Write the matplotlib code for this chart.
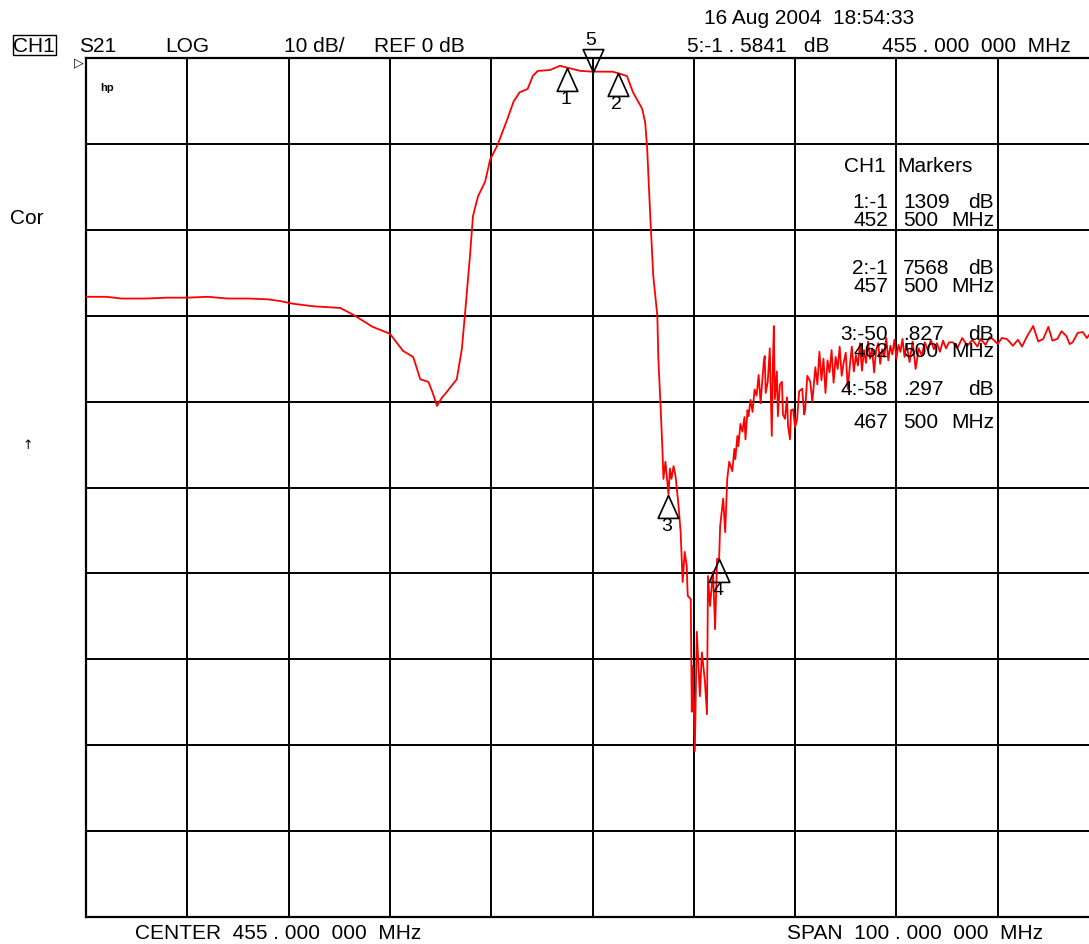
import numpy as np
import matplotlib
matplotlib.use('Agg')
import matplotlib.pyplot as plt
from matplotlib.path import Path

plt.rcParams['font.family'] = ['Liberation Sans', 'DejaVu Sans']

# S21 trace (MHz, dB)
freq_mhz = [
    405.0, 407.0, 408.5, 411.0, 413.0, 415.0, 417.0, 419.0, 421.0, 423.0,
    424.2, 425.4, 427.4, 430.1, 431.4, 433.3, 435.0, 436.3, 437.3, 438.0,
    438.8, 439.2, 439.65, 440.1, 440.6, 441.6, 442.1, 442.4, 442.9, 443.2,
    443.7, 444.4, 444.9, 445.6, 446.6, 447.2, 447.8, 448.6, 449.1, 449.6,
    450.8, 451.8, 452.5, 453.8, 454.85, 457.0, 457.5, 458.4, 459.0, 459.9,
    460.2, 460.4, 460.7, 461.0, 461.4, 461.5, 461.7, 461.9, 462.0, 462.2,
    462.5, 462.65, 462.8, 463.0, 463.2, 463.5, 463.7, 463.8, 463.9, 464.1,
    464.3, 464.4, 464.7, 464.8, 464.9, 465.1, 465.3, 465.6, 465.8, 466.1,
    466.3, 466.4, 466.6, 466.9, 467.1, 467.3, 467.5, 467.6, 467.9, 468.1,
    468.3, 468.5, 468.8, 469.0, 469.1, 469.3, 469.4, 469.6, 469.8, 470.0,
    470.1, 470.3, 470.4, 470.6, 470.8, 471.0, 471.2, 471.4, 471.6, 471.7,
    471.9, 472.0, 472.1, 472.3, 472.5, 472.7, 472.8, 472.9, 473.0, 473.2,
    473.3, 473.5, 473.7, 473.8, 474.0, 474.2, 474.3, 474.5, 474.6, 474.8,
    475.0, 475.2, 475.4, 475.7, 475.9, 476.0, 476.2, 476.5, 476.7, 476.85,
    477.0, 477.2, 477.4, 477.6, 477.8, 478.0, 478.2, 478.4, 478.6, 478.8,
    479.0, 479.2, 479.4, 479.6, 479.8, 480.0, 480.2, 480.4, 480.6, 480.8,
    481.0, 481.2, 481.4, 481.6, 481.8, 482.0, 482.2, 482.4, 482.6, 482.8,
    483.0, 483.2, 483.4, 483.6, 483.8, 484.0, 484.2, 484.4, 484.6, 484.8,
    485.0, 485.2, 485.4, 485.6, 485.8, 486.0, 486.3, 486.6, 486.9, 487.2,
    487.5, 487.8, 488.1, 488.4, 488.7, 489.0, 489.3, 489.6, 489.9, 490.2,
    490.6, 491.0, 491.5, 492.0, 492.5, 493.0, 493.3, 493.8, 494.2, 494.5,
    495.0, 495.4, 495.9, 496.5, 497.0, 497.4, 497.9, 498.5, 499.0, 499.5,
    500.0, 500.4, 500.9, 501.3, 501.8, 502.1, 502.4, 502.9, 503.4, 503.8,
    504.3, 505.0,
]
s21_db = [
    -27.8, -27.8, -28.0, -28.0, -27.9, -27.9, -27.8, -28.0, -28.0, -28.1,
    -28.3, -28.6, -28.9, -29.1, -29.9, -31.3, -32.1, -34.1, -34.8, -37.4,
    -37.7, -38.9, -40.5, -39.6, -38.9, -37.4, -33.9, -30.0, -23.1, -18.4,
    -16.1, -14.4, -11.8, -10.2, -7.1, -5.1, -4.0, -3.6, -2.1, -1.5,
    -1.4, -0.9, -1.13, -1.5, -1.58, -1.6, -1.76, -2.1, -4.0, -5.9,
    -7.5, -10.6, -18.4, -25.4, -30.0, -35.0, -40.0, -45.5, -49.0, -47.0,
    -50.8, -47.8, -49.0, -47.5, -48.7, -52.2, -55.2, -58.0, -61.0, -57.5,
    -59.1, -62.6, -63.0, -76.1, -70.8, -80.7, -66.8, -74.3, -69.2, -72.6,
    -76.4, -60.3, -63.8, -59.8, -66.5, -58.3, -58.3, -54.5, -51.3, -55.2,
    -49.0, -47.0, -48.1, -45.5, -46.7, -44.0, -45.2, -42.6, -43.5, -41.8,
    -44.4, -41.0, -41.7, -39.8, -41.2, -38.6, -39.3, -36.9, -40.2, -38.5,
    -35.5, -34.7, -39.0, -37.7, -33.8, -44.0, -36.0, -31.2, -39.7, -36.5,
    -41.7, -38.0, -37.7, -41.5, -42.0, -39.5, -42.8, -44.4, -41.0, -40.9,
    -43.0, -42.0, -38.8, -38.5, -41.5, -40.9, -37.0, -37.7, -40.0, -38.0,
    -36.0, -38.0, -34.2, -37.5, -35.0, -39.0, -35.2, -36.6, -34.0, -37.8,
    -34.8, -36.2, -33.6, -37.0, -35.4, -34.3, -38.5, -35.9, -33.6, -36.5,
    -34.6, -35.8, -33.2, -36.4, -34.0, -35.5, -33.0, -35.0, -33.8, -36.6,
    -34.0, -33.2, -35.6, -33.9, -34.8, -32.6, -35.2, -33.5, -34.5, -32.8,
    -35.0, -33.4, -34.2, -32.7, -34.8, -33.3, -35.4, -33.0, -36.2, -33.8,
    -34.6, -33.1, -34.0, -32.8, -33.9, -33.2, -34.2, -32.9, -33.8, -33.1,
    -33.1, -33.8, -32.6, -33.5, -32.8, -33.6, -32.7, -33.4, -32.5, -32.7,
    -33.3, -32.6, -32.7, -33.5, -32.8, -33.6, -32.4, -31.2, -33.0, -32.7,
    -31.3, -32.9, -32.7, -31.8, -32.4, -33.3, -33.1, -32.0, -31.9, -32.6,
    -31.8, -32.2,
]

# markers 1..5
marker_ids = ['1', '2', '3', '4', '5']
marker_freq = [452.5, 457.5, 462.5, 467.5, 455.0]
marker_db = [-1.1309, -1.7568, -50.827, -58.297, -1.5841]

W, H = 1089, 945
fig = plt.figure(figsize=(W / 100, H / 100), dpi=100)
fig.patch.set_facecolor('white')

def fx(px):
    return px / W

def fy(py):
    return 1 - py / H

ax = fig.add_axes([fx(86), fy(918), 1013 / W, 859 / H])
ax.set_xlim(405, 505)
ax.set_ylim(-100, 0)
ax.set_xticks(np.arange(405, 506, 10))
ax.set_yticks(np.arange(-100, 1, 10))
ax.tick_params(length=0, labelbottom=False, labelleft=False)
ax.grid(True, color='black', lw=1.4)
for s in ax.spines.values():
    s.set_linewidth(1.6)
    s.set_color('black')

ax.plot(freq_mhz, s21_db, color='#ff0000', lw=1.3, zorder=3)

# marker symbols: open triangles with the tip on the trace
up_tri = Path([(0, 0), (-0.45, -1), (0.45, -1), (0, 0)])
down_tri = Path([(0, 0), (-0.45, 1), (0.45, 1), (0, 0)])
for mid, f, d in zip(marker_ids, marker_freq, marker_db):
    if mid == '5':
        ax.plot(f, d, marker=down_tri, ms=33, mfc='none', mec='black',
                mew=1.2, zorder=4, clip_on=False)
        ax.annotate(mid, (f, d), xytext=(-1, 23), textcoords='offset points',
                    ha='center', va='center', fontsize=14, annotation_clip=False)
    else:
        ax.plot(f, d, marker=up_tri, ms=33, mfc='none', mec='black',
                mew=1.2, zorder=4)
        ax.annotate(mid, (f, d), xytext=(-1, -22), textcoords='offset points',
                    ha='center', va='center', fontsize=14)

fs = 15
# header line
fig.text(fx(34), fy(46), 'CH1', fontsize=fs, ha='center', va='center',
         bbox=dict(boxstyle='square,pad=0.03', fc='none', ec='black', lw=1))
fig.text(fx(79), fy(46), 'S21', fontsize=fs, va='center')
fig.text(fx(165), fy(46), 'LOG', fontsize=fs, va='center')
fig.text(fx(284), fy(46), '10 dB/', fontsize=fs, va='center')
fig.text(fx(374), fy(46), 'REF 0 dB', fontsize=fs, va='center')
fig.text(fx(704), fy(18), '16 Aug 2004  18:54:33', fontsize=fs, va='center')
fig.text(fx(687), fy(46), '5:-1 . 5841   dB', fontsize=fs, va='center')
fig.text(fx(882), fy(46), '455 . 000  000  MHz', fontsize=fs, va='center')
fig.text(fx(79), fy(63), '\u25b7', fontsize=9, ha='center', va='center',
         family=['DejaVu Sans'])
fig.text(fx(107), fy(88), 'hp', fontsize=8, ha='center', va='center',
         weight='bold')
fig.text(fx(10), fy(218), 'Cor', fontsize=fs, va='center')
fig.text(fx(28), fy(446), '\u2191', fontsize=9, ha='center', va='center',
         family=['DejaVu Sans'])

# bottom line
fig.text(fx(135), fy(934), 'CENTER  455 . 000  000  MHz', fontsize=fs, va='center')
fig.text(fx(787), fy(934), 'SPAN  100 . 000  000  MHz', fontsize=fs, va='center')

# marker table
fig.text(fx(886), fy(166), 'CH1', fontsize=fs, ha='right', va='center')
fig.text(fx(897), fy(166), 'Markers', fontsize=fs, va='center')
table_rows = [
    (202, '1:-1', '1309', 'dB'), (220, '452', '500', 'MHz'),
    (268, '2:-1', '7568', 'dB'), (287, '457', '500', 'MHz'),
    (334, '3:-50', '.827', 'dB'), (352, '462', '500', 'MHz'),
    (390, '4:-58', '.297', 'dB'), (423, '467', '500', 'MHz'),
]
for py, a, b, c in table_rows:
    fig.text(fx(888), fy(py), a, fontsize=fs, ha='right', va='center')
    fig.text(fx(903), fy(py), b, fontsize=fs, va='center')
    fig.text(fx(994), fy(py), c, fontsize=fs, ha='right', va='center')

fig.savefig('out.png', dpi=100)
